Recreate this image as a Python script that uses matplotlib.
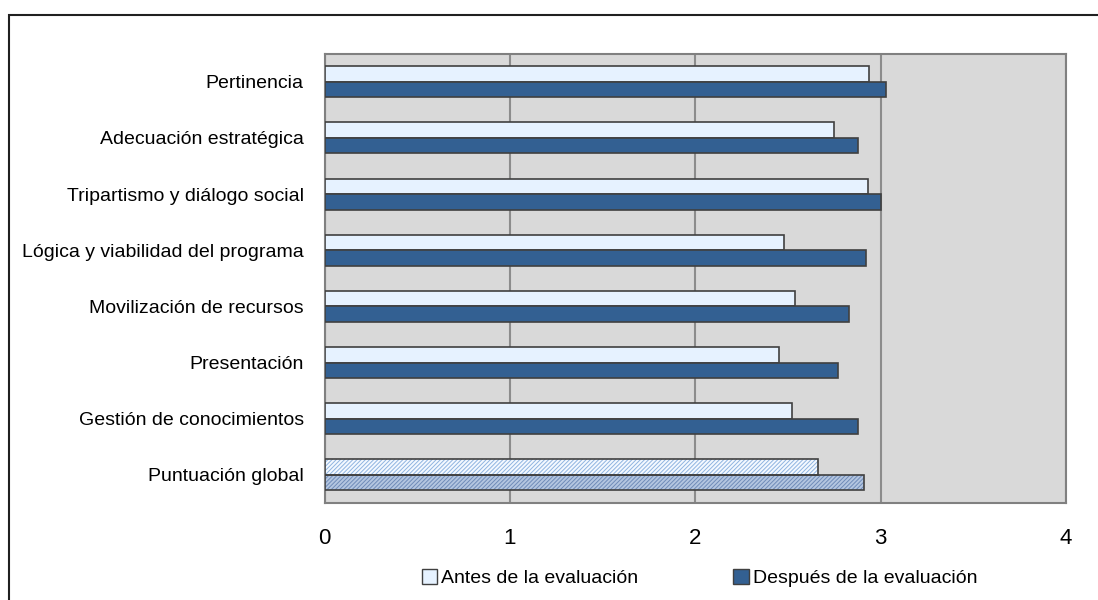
import matplotlib.pyplot as plt
import matplotlib.patches as mpatches
import numpy as np

plt.rcParams['font.family'] = ['Liberation Sans Narrow', 'Liberation Sans', 'DejaVu Sans']
plt.rcParams['hatch.linewidth'] = 0.7

categories = [
    "Pertinencia",
    "Adecuación estratégica",
    "Tripartismo y diálogo social",
    "Lógica y viabilidad del programa",
    "Movilización de recursos",
    "Presentación",
    "Gestión de conocimientos",
    "Puntuación global",
]
antes = [2.94, 2.75, 2.93, 2.48, 2.54, 2.45, 2.52, 2.66]
despues = [3.03, 2.88, 3.00, 2.92, 2.83, 2.77, 2.88, 2.91]
series_names = ["Antes de la evaluación", "Después de la evaluación"]

light = "#e6f2ff"
dark = "#336092"
edge = "#404040"

fig = plt.figure(figsize=(10.98, 6), dpi=100)
ax = fig.add_axes([0.2957, 0.1617, 0.675, 0.7488])
ax.set_facecolor("#d9d9d9")

# outer frame around the whole chart
fig.patches.append(mpatches.Rectangle((9 / 1098, -0.1), 1.2, 0.1 + (600 - 15) / 600,
                                      transform=fig.transFigure, fill=False,
                                      edgecolor="#202020", linewidth=1.5))

y = np.arange(len(categories))
h = 0.277
n = len(categories) - 1  # last row is the global score, drawn hatched

ax.barh(y[:n] - h / 2, antes[:n], height=h, color=light, edgecolor=edge, linewidth=1.2, zorder=3)
ax.barh(y[:n] + h / 2, despues[:n], height=h, color=dark, edgecolor=edge, linewidth=1.2, zorder=3)

# hatched bars for the global score
ax.barh(y[n] - h / 2, antes[n], height=h, color="#f4f9ff", edgecolor="#8fb4e0",
        hatch="////////", linewidth=0, zorder=3)
ax.barh(y[n] - h / 2, antes[n], height=h, fill=False, edgecolor=edge, linewidth=1.2, zorder=4)
ax.barh(y[n] + h / 2, despues[n], height=h, color="#b4c6e0", edgecolor="#6f8bb8",
        hatch="////////", linewidth=0, zorder=3)
ax.barh(y[n] + h / 2, despues[n], height=h, fill=False, edgecolor=edge, linewidth=1.2, zorder=4)

ax.set_xlim(0, 4)
ax.set_ylim(n + 0.5, -0.5)
ax.set_xticks([0, 1, 2, 3, 4])
ax.set_yticks(y)
ax.set_yticklabels(categories, fontsize=14)
ax.tick_params(axis="x", labelsize=16, length=0, pad=18)
ax.tick_params(axis="y", length=0, pad=15)
ax.xaxis.grid(True, color="#8c8c8c", linewidth=1.5, zorder=1)
ax.set_axisbelow(True)
for s in ax.spines.values():
    s.set_color("#808080")
    s.set_linewidth(1.5)

handles = [mpatches.Patch(facecolor=light, edgecolor=edge, linewidth=1),
           mpatches.Patch(facecolor=dark, edgecolor=edge, linewidth=1)]
fig.legend(handles, series_names, loc="center", bbox_to_anchor=(0.637, 0.036), ncol=2,
           frameon=False, fontsize=14, handlelength=0.8, handleheight=0.8,
           handletextpad=0.2, columnspacing=4.9)

fig.savefig("out.png", dpi=100)
